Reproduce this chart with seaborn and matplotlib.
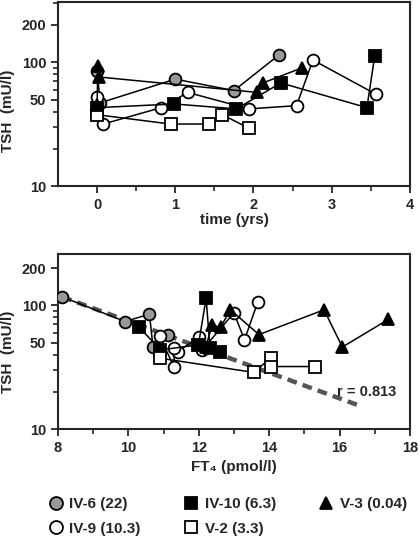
import numpy as np
import pandas as pd
import matplotlib
matplotlib.use("Agg")
import matplotlib.pyplot as plt
import seaborn as sns
from matplotlib.lines import Line2D
from matplotlib.ticker import FixedLocator, LogLocator, NullFormatter, FuncFormatter

# ---- data ----
# top panel: TSH vs time (yrs)
iv6_t = [0.0, 0.04, 1.0, 1.75, 2.33]
iv6_tsh = [85, 47, 73, 59, 115]
iv9_t = [0.0, 0.08, 0.82, 1.16, 1.94, 2.55, 2.76, 3.57]
iv9_tsh = [52, 31.7, 43, 57, 42, 44.6, 104, 55]
iv10_t = [0.0, 0.99, 1.78, 2.35, 3.45, 3.55]
iv10_tsh = [43, 46, 42, 68, 43, 112]
v2_t = [0.0, 0.94, 1.43, 1.6, 1.94]
v2_tsh = [37.7, 31.7, 31.7, 37.7, 29.4]
v3_t = [0.0, 0.01, 0.02, 2.05, 2.12, 2.62]
v3_tsh = [45, 93, 76, 57, 68, 90]

# bottom panel: TSH vs FT4
iv6_ft4 = [8.12, 9.91, 10.6, 10.7, 11.12]
iv6_tsh2 = [117, 74, 85, 46, 58]
iv9_ft4 = [13.68, 13.3, 13.0, 12.1, 12.0, 11.4, 11.3, 11.3, 10.89]
iv9_tsh2 = [107, 52.6, 87, 43.6, 55, 42.3, 45, 31.6, 56.6]
iv10_ft4 = [10.3, 10.91, 11.99, 12.21, 12.32, 12.6]
iv10_tsh2 = [67, 43.6, 47.9, 114, 45, 42.3]
v2_ft4 = [10.89, 13.56, 14.04, 14.06, 15.3]
v2_tsh2 = [37.4, 28.7, 37.4, 32.0, 32.0]
v3_ft4 = [12.2, 12.38, 12.62, 12.9, 13.71, 15.56, 16.08, 17.39]
v3_tsh2 = [46, 69, 66.5, 92, 58, 92, 46, 77]

# regression line endpoints
fit_ft4 = [8.12, 16.55]
fit_tsh = [117, 15.5]

labels = ["IV-6 (22)", "IV-9 (10.3)", "IV-10 (6.3)", "V-2 (3.3)", "V-3 (0.04)"]

styles = {
    "IV-6 (22)": dict(marker="o", markerfacecolor="#999999", markersize=8.5),
    "IV-9 (10.3)": dict(marker="o", markerfacecolor="white", markersize=8.5),
    "IV-10 (6.3)": dict(marker="s", markerfacecolor="black", markersize=8),
    "V-2 (3.3)": dict(marker="s", markerfacecolor="white", markersize=8),
    "V-3 (0.04)": dict(marker="^", markerfacecolor="black", markersize=8),
}

sns.set_style("ticks")
plt.rcParams["font.family"] = ["Liberation Sans", "DejaVu Sans"]
plt.rcParams["font.weight"] = "bold"
plt.rcParams["axes.labelweight"] = "bold"

fig = plt.figure(figsize=(4.2, 5.38), dpi=100)
ax1 = fig.add_axes([0.138, 0.654, 0.838, 0.342])
ax2 = fig.add_axes([0.138, 0.2026, 0.838, 0.326])

top = [(iv6_t, iv6_tsh), (iv9_t, iv9_tsh), (iv10_t, iv10_tsh), (v2_t, v2_tsh), (v3_t, v3_tsh)]
bot = [(iv6_ft4, iv6_tsh2), (iv9_ft4, iv9_tsh2), (iv10_ft4, iv10_tsh2), (v2_ft4, v2_tsh2), (v3_ft4, v3_tsh2)]

# regression line underneath
sns.lineplot(x=fit_ft4, y=fit_tsh, ax=ax2, color="#555555", lw=3.2,
             linestyle=(0, (2.2, 1.4)), zorder=1)

for ax, series in [(ax1, top), (ax2, bot)]:
    for lab, (x, y) in zip(labels, series):
        df = pd.DataFrame({"x": x, "y": y})
        sns.lineplot(data=df, x="x", y="y", ax=ax, sort=False, color="black",
                     lw=1.1, markeredgecolor="black", markeredgewidth=1.3,
                     zorder=3, estimator=None, **styles[lab])

for ax in (ax1, ax2):
    ax.set_yscale("log")
    ax.yaxis.set_major_locator(FixedLocator([10, 50, 100, 200]))
    ax.yaxis.set_major_formatter(FuncFormatter(lambda v, p: f"{int(v)}"))
    ax.yaxis.set_minor_locator(LogLocator(base=10, subs=np.arange(2, 10)))
    ax.yaxis.set_minor_formatter(NullFormatter())
    ax.set_ylabel("TSH  (mU/l)", fontsize=11, fontweight="bold")
    for s in ax.spines.values():
        s.set_linewidth(1.5)
    ax.tick_params(axis="both", which="major", width=1.3, length=5, labelsize=10.5)
    ax.tick_params(axis="both", which="minor", width=1.2, length=3.5)

ax1.set_ylim(10, 305)
ax1.set_xlim(-0.5, 4)
ax1.xaxis.set_major_locator(FixedLocator([0, 1, 2, 3, 4]))
ax1.xaxis.set_minor_locator(FixedLocator([0.5, 1.5, 2.5, 3.5]))
ax1.set_xlabel("time (yrs)", fontsize=11, fontweight="bold", labelpad=1)
ax1.yaxis.set_label_coords(-0.122, 0.41)

ax2.set_ylim(10, 262)
ax2.set_xlim(8, 18)
ax2.xaxis.set_major_locator(FixedLocator([8, 10, 12, 14, 16, 18]))
ax2.xaxis.set_minor_locator(FixedLocator([9, 11, 13, 15, 17]))
ax2.set_xlabel("FT\u2084 (pmol/l)", fontsize=11, fontweight="bold", labelpad=4)
ax2.yaxis.set_label_coords(-0.122, 0.44)
ax2.text(17.62, 20, "r = 0.813", ha="right", va="center", fontsize=10.5, fontweight="bold")

for ax in (ax1, ax2):
    for t in ax.get_xticklabels() + ax.get_yticklabels():
        t.set_fontweight("bold")

handles = [Line2D([], [], linestyle="none", markeredgecolor="black", markeredgewidth=1.3,
                  **{**styles[l], "markersize": styles[l]["markersize"] + 0.8}) for l in labels]
fig.legend(handles, labels, ncol=3, loc="upper left", bbox_to_anchor=(0.114, 0.076),
           frameon=False, prop={"weight": "bold", "size": 11}, handletextpad=0.4,
           columnspacing=2.8, labelspacing=0.7, handlelength=1.0,
           borderaxespad=0, borderpad=0)

fig.savefig("out.png", dpi=100)
